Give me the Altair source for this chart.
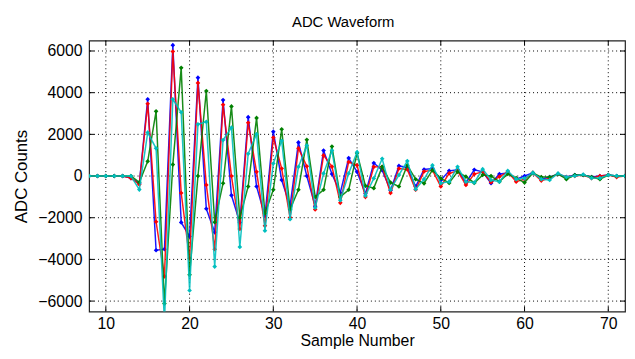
import altair as alt
import pandas as pd

samples = list(range(8, 73))

blue = [0, 0, 0, 0, 0, -100, -350, 3685, -3560, -3510, 6280, -2225, -2900, 4720, -1570,
        -2700, 3650, -925, -2230, 2825, -500, -1915, 2130, -190, -1445, 1615, 0, -1445,
        1225, 100, -800, 860, 200, -845, 625, 280, -690, 485, 410, -500, 315, 360, -200,
        250, 300, -315, 300, 200, -345, 95, 150, -150, 0, 150, -150, -50, 100, -50, 50,
        50, -50, 0, 50, 0, 0]
red = [0, 0, 0, 0, 0, -100, -400, 3470, -2195, -4815, 5975, -815, -3950, 4470, -425,
       -3515, 3420, 0, -2540, 2555, 200, -2385, 1850, 360, -1990, 1330, 470, -1600,
       990, 450, -1285, 675, 520, -1000, 440, 440, -815, 360, 315, -660, 220, 280, -500,
       125, 250, -425, 95, 200, -300, -30, 200, -270, -150, 150, -220, -100, 100, -50, 0,
       50, -100, 0, 50, -50, 0]
green = [0, 0, 0, 0, 0, 0, -300, 705, 3105, -6120, 550, 5190, -4740, 0, 4080,
         -2215, -345, 3340, -2000, -500, 2790, -1800, -660, 2245, -1600, -660, 1740, -1000,
         -660, 1420, -1000, -660, 1100, -470, -580, 440, -315, -500, 520, -155, -350, 280, -110,
         -330, 200, -30, -330, 50, 0, -270, 100, -100, -315, 150, -50, -50, 100, -150, 50,
         50, -50, -150, 50, 0, 0]
cyan = [0, 0, 0, 0, 0, 0, -650, 2085, 1330, -7000, 3685, 3060, -5490, 2480, 2600,
        -4345, 1725, 2320, -3400, 1070, 2010, -2620, 600, 1695, -2070, 440, 1460, -1520,
        125, 1225, -1160, 125, 1145, -940, -110, 830, -660, 50, 720, -630, -150, 520, -345,
        -270, 440, -270, -315, 330, -190, -270, 250, -150, -110, 155, -150, -190, 125, -50, 0,
        75, -100, -100, 50, 0, 0]

series_names = ["ch1", "ch2", "ch3", "ch4"]
series_colors = ["#0000ff", "#ff0000", "#008000", "#00bfbf"]
series_values = [blue, red, green, cyan]

x_ticks = [10, 20, 30, 40, 50, 60, 70]
y_ticks = [-6000, -4000, -2000, 0, 2000, 4000, 6000]

rows = []
for name, vals in zip(series_names, series_values):
    for s, v in zip(samples, vals):
        rows.append({"s": s, "v": v, "series": name})
df = pd.DataFrame(rows)
xt = pd.DataFrame({"t": x_ticks})
yt = pd.DataFrame({"t": y_ticks})

W, H = 542, 274
FONT = "Liberation Sans"

x_scale = alt.Scale(domain=[8, 72], nice=False, zero=False)
y_scale = alt.Scale(domain=[-6500, 6500], nice=False)

x_axis = alt.Axis(values=x_ticks, format="d", grid=False, ticks=False, domain=False,
                  labelFont=FONT, labelFontSize=16, labelColor="#000", labelPadding=4,
                  title="Sample Number", titleFont=FONT, titleFontSize=16,
                  titleFontWeight="normal", titleColor="#000",
                  titleBaseline="alphabetic", titleY=34)
y_axis = alt.Axis(values=y_ticks, format="d", grid=False, ticks=False, domain=False,
                  labelFont=FONT, labelFontSize=16, labelColor="#000", labelPadding=7,
                  title="ADC Counts", titleFont=FONT, titleFontSize=17,
                  titleFontWeight="normal", titleColor="#000", titlePadding=7)

X = lambda f: alt.X(f, scale=x_scale, axis=x_axis)
Y = lambda f: alt.Y(f, scale=y_scale, axis=y_axis)

xgrid = alt.Chart(xt).mark_rule(color="#000", strokeDash=[1, 3], strokeWidth=1).encode(
    x=X("t:Q"))
ygrid = alt.Chart(yt).mark_rule(color="#000", strokeDash=[1, 3], strokeWidth=1).encode(
    y=Y("t:Q"))

tick_b = alt.Chart(xt).mark_rule(color="#000").encode(
    x=X("t:Q"), y=alt.value(H), y2=alt.value(H - 5))
tick_t = alt.Chart(xt).mark_rule(color="#000").encode(
    x=X("t:Q"), y=alt.value(0), y2=alt.value(5))
tick_l = alt.Chart(yt).mark_rule(color="#000").encode(
    y=Y("t:Q"), x=alt.value(0), x2=alt.value(5))
tick_r = alt.Chart(yt).mark_rule(color="#000").encode(
    y=Y("t:Q"), x=alt.value(W), x2=alt.value(W - 5))

layers = [xgrid, ygrid, tick_b, tick_t, tick_l, tick_r]
for name, col in zip(series_names, series_colors):
    base = alt.Chart(df).transform_filter(alt.datum.series == name)
    enc = dict(x=X("s:Q"), y=Y("v:Q"))
    layers.append(base.mark_line(color=col, strokeWidth=1.5, opacity=0.9,
                                 clip=True).encode(**enc))
    layers.append(base.mark_point(color=col, filled=True, shape="diamond", size=22,
                                  opacity=1, clip=True).encode(**enc))

chart = alt.layer(*layers).properties(
    width=W, height=H,
    background="white",
    title=alt.TitleParams("ADC Waveform", font=FONT, fontSize=15, fontWeight="normal",
                          color="#000", anchor="middle", offset=10, dx=-14),
    autosize=alt.AutoSizeParams(type="none"),
    padding={"left": 82, "top": 31, "right": 2, "bottom": 38},
).configure_view(stroke="#222", strokeWidth=1.2)

chart.save("out.html", embed_options={"renderer": "svg", "actions": False})
